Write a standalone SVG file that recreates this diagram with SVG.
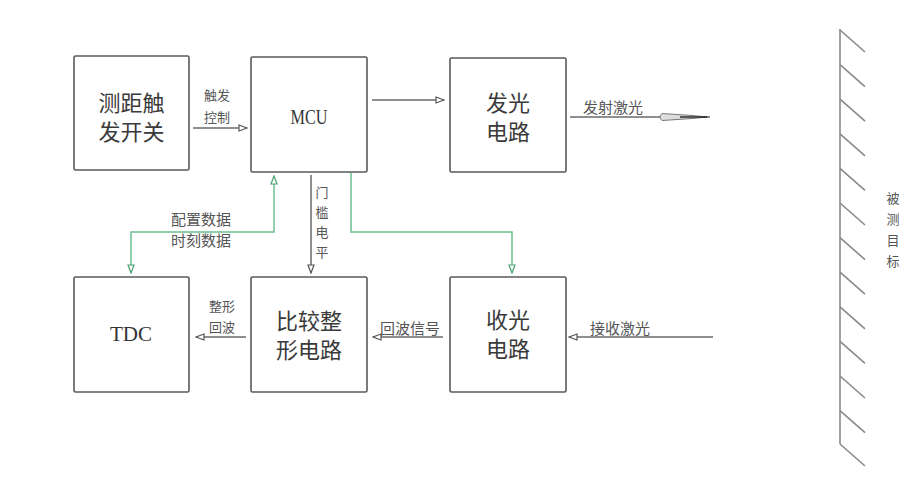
<svg xmlns="http://www.w3.org/2000/svg" width="921" height="495" viewBox="0 0 921 495">
<defs>
<style>
.box{fill:#fff;stroke:#5a5a5a;stroke-width:1.6}
.big{font-family:"Noto Sans CJK SC","Noto Sans",sans-serif;font-size:22px;fill:#3a3a3a;text-anchor:middle}
.lat{font-family:"Liberation Serif",serif;font-size:21px;fill:#333;text-anchor:middle}
.lbl{font-family:"Noto Sans CJK SC",sans-serif;font-size:13px;fill:#555;text-anchor:middle}
.lbl2{font-family:"Noto Sans CJK SC",sans-serif;font-size:15px;fill:#555;text-anchor:middle}
.g{fill:none;stroke:#6cc08f;stroke-width:1.5}
.k{fill:none;stroke:#6a6a6a;stroke-width:1.5}
.wall{fill:none;stroke:#8a8a8a;stroke-width:1.6}
</style>
<marker id="ak" viewBox="0 0 10 8" refX="9" refY="4" markerWidth="10" markerHeight="8" markerUnits="userSpaceOnUse" orient="auto">
<path d="M1,1 L9,4 L1,7 Z" fill="#fff" stroke="#555" stroke-width="1.2"/>
</marker>
<marker id="ag" viewBox="0 0 10 8" refX="9" refY="4" markerWidth="10" markerHeight="8" markerUnits="userSpaceOnUse" orient="auto-start-reverse">
<path d="M1,1 L9,4 L1,7 Z" fill="#fff" stroke="#4aa070" stroke-width="1.2"/>
</marker>
</defs>
<rect width="921" height="495" fill="#fff"/>

<g id="connectors">
<line class="k" x1="193" y1="128" x2="247" y2="128" marker-end="url(#ak)"/>
<line class="k" x1="372" y1="100" x2="444" y2="100" marker-end="url(#ak)"/>
<line class="k" x1="570" y1="117" x2="710" y2="117"/>
<path d="M662,113.5 L692,115.5 L708,117 L692,118.5 L662,120.5 Q658,117 662,113.5 Z" fill="#ddd" stroke="#777" stroke-width="1"/>
<line x1="680" y1="117" x2="707" y2="117" stroke="#222" stroke-width="1.4"/>
<polyline class="g" points="274,176 274,232 131,232 131,273" marker-start="url(#ag)" marker-end="url(#ag)"/>
<polyline class="g" points="351,173 351,232 512,232 512,273" marker-end="url(#ag)"/>
<line class="k" x1="311" y1="175" x2="311" y2="273" marker-end="url(#ak)"/>
<line class="k" x1="246" y1="337" x2="196" y2="337" marker-end="url(#ak)"/>
<line class="k" x1="443" y1="337" x2="373" y2="337" marker-end="url(#ak)"/>
<line class="k" x1="713" y1="337" x2="569" y2="337" marker-end="url(#ak)"/>
<text class="lbl" x="217" y="100">触发<tspan x="217" dy="22">控制</tspan></text>
<text class="lbl2" x="613" y="113">发射激光</text>
<text class="lbl2" x="201" y="225">配置数据<tspan x="201" dy="21">时刻数据</tspan></text>
<text class="lbl" x="322" y="197">门<tspan x="322" dy="20">槛</tspan><tspan x="322" dy="20">电</tspan><tspan x="322" dy="20">平</tspan></text>
<text class="lbl" x="222" y="311">整形<tspan x="222" dy="21">回波</tspan></text>
<text class="lbl2" x="410" y="334">回波信号</text>
<text class="lbl2" x="620" y="334">接收激光</text>
</g>

<g id="switch">
<rect class="box" x="74" y="56" width="115" height="114" rx="1.5"/>
<text class="big" x="131.5" y="111">测距触<tspan x="131.5" dy="29">发开关</tspan></text>
</g>
<g id="mcu">
<rect class="box" x="251" y="57" width="116" height="115" rx="1.5"/>
<text class="lat" x="309" y="124" textLength="37" lengthAdjust="spacingAndGlyphs">MCU</text>
</g>
<g id="emit">
<rect class="box" x="450" y="58" width="116" height="114" rx="1.5"/>
<text class="big" x="508" y="111">发光<tspan x="508" dy="29">电路</tspan></text>
</g>
<g id="tdc">
<rect class="box" x="74" y="277" width="115" height="115" rx="1.5"/>
<text class="lat" x="131" y="341" textLength="42" lengthAdjust="spacingAndGlyphs">TDC</text>
</g>
<g id="compare">
<rect class="box" x="251" y="277" width="116" height="115" rx="1.5"/>
<text class="big" x="309" y="329">比较整<tspan x="309" dy="29">形电路</tspan></text>
</g>
<g id="receive">
<rect class="box" x="450" y="277" width="116" height="115" rx="1.5"/>
<text class="big" x="508" y="328">收光<tspan x="508" dy="29">电路</tspan></text>
</g>

<g id="target">
<line class="wall" x1="840" y1="29" x2="840" y2="444"/>
<path class="wall" d="M840,30 l25,22 M840,64.6 l25,22 M840,99.2 l25,22 M840,133.8 l25,22 M840,168.4 l25,22 M840,203 l25,22 M840,237.6 l25,22 M840,272.2 l25,22 M840,306.8 l25,22 M840,341.4 l25,22 M840,376 l25,22 M840,410.6 l25,22 M840,444 l25,22"/>
<text class="lbl" x="893" y="203">被<tspan x="893" dy="21">测</tspan><tspan x="893" dy="21">目</tspan><tspan x="893" dy="21">标</tspan></text>
</g>
</svg>
